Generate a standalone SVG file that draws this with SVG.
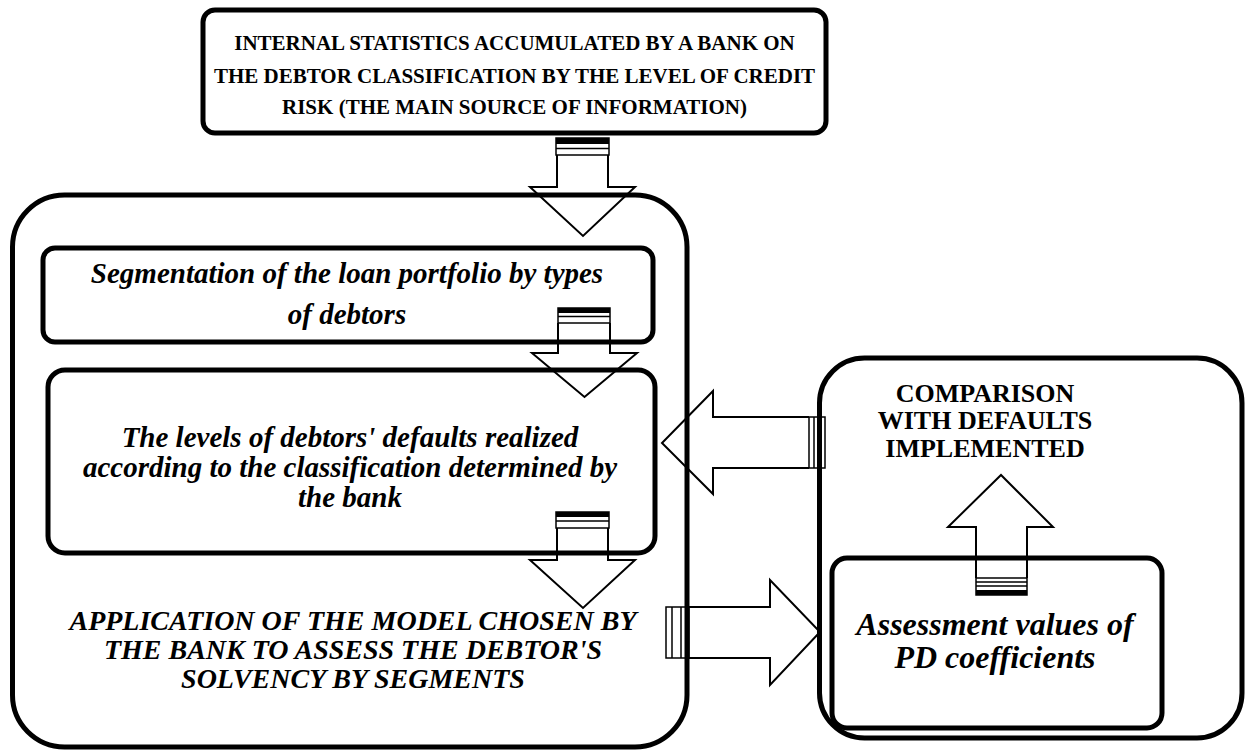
<svg xmlns="http://www.w3.org/2000/svg" width="1245" height="751" viewBox="0 0 1245 751">
<style>
.box{fill:none;stroke:#000;stroke-width:5}
.arr{fill:none;stroke:#000;stroke-width:2;stroke-linejoin:miter}
.thin{fill:none;stroke:#000;stroke-width:1.5}
.band{fill:#000;stroke:none}
.tb{font-family:"Liberation Serif","Times New Roman",serif;font-weight:bold;text-anchor:middle;fill:#000}
.ti{font-family:"Liberation Serif","Times New Roman",serif;font-weight:bold;font-style:italic;text-anchor:middle;fill:#000}
</style>
<rect width="1245" height="751" fill="#fff"/>
<g id="connectors">
  <g id="arrow-top-to-main">
    <path class="arr" d="M557,155 V187 H530 L583,236 L635,187 H608 V155"/>
    <rect class="thin" x="556" y="138" width="53" height="17"/>
    <rect class="band" x="556" y="138" width="53" height="6"/>
    <line class="thin" x1="556" y1="148.5" x2="609" y2="148.5"/>
  </g>
  <g id="arrow-seg-to-levels">
    <path class="arr" d="M558,323 V353 H532 L584.5,397 L637,353 H610 V323"/>
    <rect class="thin" x="558" y="308" width="52" height="15"/>
    <rect class="band" x="558" y="308" width="52" height="5"/>
    <line class="thin" x1="558" y1="316.5" x2="610" y2="316.5"/>
  </g>
  <g id="arrow-levels-to-application">
    <path class="arr" d="M557,528 V560 H530 L583,608 L635,560 H608 V528"/>
    <rect class="thin" x="556" y="512" width="53" height="16"/>
    <rect class="band" x="556" y="512" width="53" height="5"/>
    <line class="thin" x1="556" y1="521" x2="609" y2="521"/>
  </g>
  <g id="arrow-comparison-to-levels">
    <path class="arr" d="M809,417 H713 V391 L662,443 L713,494 V468 H809"/>
    <rect class="thin" x="809" y="417" width="16" height="51"/>
    <line class="thin" x1="814" y1="417" x2="814" y2="468"/>
  </g>
  <g id="arrow-application-to-assessment">
    <path class="arr" d="M689,607 H770 V580 L820,632 L770,685 V658 H689"/>
    <rect class="thin" x="666" y="607" width="23" height="51"/>
    <line class="thin" x1="672" y1="607" x2="672" y2="658"/>
    <line class="thin" x1="681" y1="607" x2="681" y2="658"/>
  </g>
  <g id="arrow-assessment-to-comparison">
    <path class="arr" d="M976,578 V527 H948 L1001,475 L1053,527 H1027 V578"/>
    <rect class="thin" x="976" y="578" width="51" height="17"/>
    <line class="thin" x1="976" y1="582" x2="1027" y2="582"/>
    <line class="thin" x1="976" y1="586" x2="1027" y2="586"/>
    <rect class="band" x="976" y="590" width="51" height="5"/>
  </g>
</g>
<g id="node-internal-statistics">
  <rect class="box" x="203" y="10" width="623" height="123" rx="12"/>
  <text class="tb" font-size="21" x="514.5" y="50">INTERNAL STATISTICS ACCUMULATED BY A BANK ON</text>
  <text class="tb" font-size="21" x="514.5" y="82.5">THE DEBTOR CLASSIFICATION BY THE LEVEL OF CREDIT</text>
  <text class="tb" font-size="21" x="514.5" y="114">RISK (THE MAIN SOURCE OF INFORMATION)</text>
</g>
<g id="node-main-process">
  <rect class="box" x="12.5" y="195" width="674.5" height="552" rx="52"/>
  <text class="ti" font-size="28" x="353" y="630">APPLICATION OF THE MODEL CHOSEN BY</text>
  <text class="ti" font-size="28" x="353" y="659">THE BANK TO ASSESS THE DEBTOR'S</text>
  <text class="ti" font-size="28" x="353" y="688">SOLVENCY BY SEGMENTS</text>
</g>
<g id="node-segmentation">
  <rect class="box" x="43" y="248" width="610" height="94" rx="12"/>
  <text class="ti" font-size="29" x="347" y="283">Segmentation of the loan portfolio by types</text>
  <text class="ti" font-size="29" x="347" y="324">of debtors</text>
</g>
<g id="node-levels">
  <rect class="box" x="48" y="370" width="607" height="183" rx="17"/>
  <text class="ti" font-size="29" x="350" y="447">The levels of debtors' defaults realized</text>
  <text class="ti" font-size="29" x="350" y="477">according to the classification determined by</text>
  <text class="ti" font-size="29" x="350" y="507">the bank</text>
</g>
<g id="node-comparison">
  <rect class="box" x="819.5" y="358" width="422.5" height="380" rx="45"/>
  <text class="tb" font-size="26" x="985" y="402">COMPARISON</text>
  <text class="tb" font-size="26" x="985" y="429">WITH DEFAULTS</text>
  <text class="tb" font-size="26" x="985" y="457">IMPLEMENTED</text>
</g>
<g id="node-assessment">
  <rect class="box" x="832" y="558" width="330" height="170" rx="15"/>
  <text class="ti" font-size="32" x="995" y="635">Assessment values of</text>
  <text class="ti" font-size="32" x="995" y="668">PD coefficients</text>
</g>
</svg>
